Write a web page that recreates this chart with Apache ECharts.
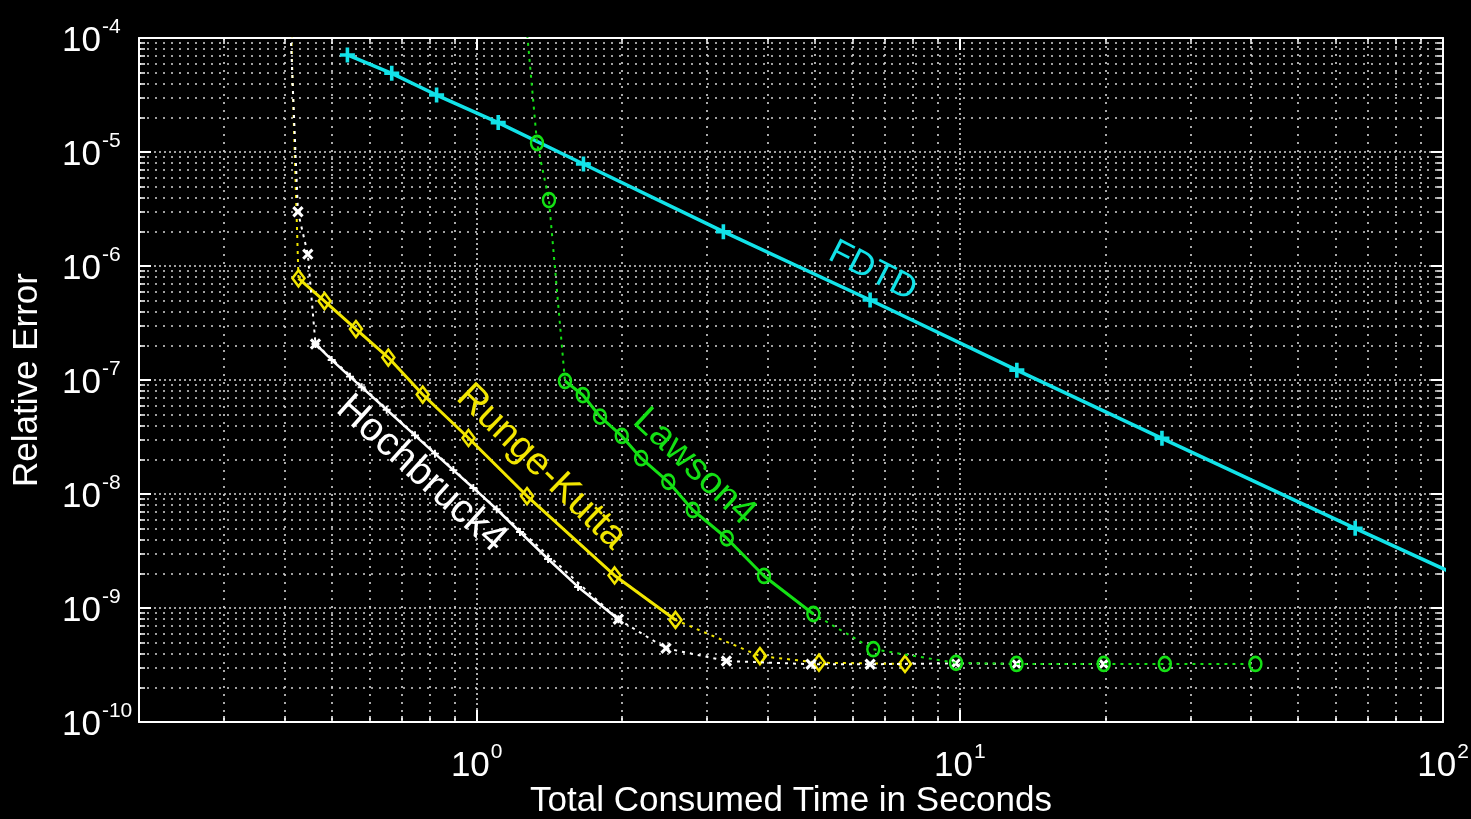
<!DOCTYPE html>
<html>
<head>
<meta charset="utf-8">
<script src="https://cdn.jsdelivr.net/npm/echarts@6/dist/echarts.min.js"></script>
<style>
  html, body { margin: 0; padding: 0; background: #000; }
  #chart { width: 1471px; height: 819px; }
</style>
</head>
<body>
<div id="chart"></div>
<script>
// ---- axis ranges (log10 scale) ----
const xRange = [0.2, 100];
const yRange = [1e-10, 1e-4];

// ---- FDTD: run time (s) vs relative error ----
const fdtdTime  = [0.540, 0.667, 0.826, 1.108, 1.663, 3.24, 6.52, 13.12, 26.2, 65.8, 131.6];
const fdtdError = [7.10e-5, 4.90e-5, 3.16e-5, 1.81e-5, 7.85e-6, 2.0e-6, 5.03e-7, 1.22e-7, 3.08e-8, 5.0e-9, 1.3e-9];

// ---- Lawson4: all runs (dotted) and the converging stretch (solid) ----
const lawsonTime  = [1.251, 1.333, 1.411, 1.523, 1.658, 1.800, 1.996, 2.189, 2.492, 2.800, 3.293, 3.932, 4.975, 6.62, 9.82, 13.10, 19.85, 26.56, 40.9];
const lawsonError = [2.38e-4, 1.2e-5, 3.79e-6, 9.8e-8, 7.38e-8, 4.77e-8, 3.23e-8, 2.06e-8, 1.28e-8, 7.24e-9, 4.09e-9, 1.91e-9, 8.86e-10, 4.35e-10, 3.30e-10, 3.23e-10, 3.23e-10, 3.23e-10, 3.23e-10];
const lawsonSolid = [3, 12];   // first and last index of the converging stretch

// ---- Runge-Kutta ----
const rkTime  = [0.4108, 0.4277, 0.4842, 0.5624, 0.6562, 0.7731, 0.9617, 1.271, 1.929, 2.579, 3.857, 5.11, 7.70];
const rkError = [2.38e-4, 7.8e-7, 4.93e-7, 2.80e-7, 1.574e-7, 7.46e-8, 3.10e-8, 9.6e-9, 1.93e-9, 7.85e-10, 3.79e-10, 3.31e-10, 3.23e-10];
const rkSolid = [1, 9];

// ---- Hochbruck4: coarse runs (dotted, x markers) and fine runs (solid) ----
const hochTime  = [0.4088, 0.4266, 0.4471, 0.4638, 1.964, 2.465, 3.287, 4.92, 6.52, 9.81, 13.1, 19.85];
const hochError = [2.38e-4, 2.99e-6, 1.27e-6, 2.07e-7, 7.96e-10, 4.43e-10, 3.43e-10, 3.21e-10, 3.21e-10, 3.27e-10, 3.23e-10, 3.23e-10];
const hochFineTime  = [0.4638, 0.501, 0.5466, 0.578, 0.6512, 0.7452, 0.8196, 0.8946, 0.984, 1.10, 1.229, 1.405, 1.621, 1.964];
const hochFineError = [2.07e-7, 1.50e-7, 1.07e-7, 8.65e-8, 5.48e-8, 3.27e-8, 2.26e-8, 1.62e-8, 1.13e-8, 7.35e-9, 4.64e-9, 2.69e-9, 1.53e-9, 7.96e-10];

// ---- in-plot curve names, anchored in data space ----
const curveNames  = ['FDTD', 'Lawson4', 'Runge-Kutta', 'Hochbruck4'];
const nameTime    = [6.6, 2.82, 1.36, 0.768];
const nameError   = [9.0e-7, 1.73e-8, 1.72e-8, 1.50e-8];
const nameAngle   = [-27, -43, -44, -42];
const nameSize    = [35, 38, 39, 40];

const CYAN = '#12e2e8', GREEN = '#14e014', YELLOW = '#f2e600', WHITE = '#ffffff';
const nameColor = [CYAN, GREEN, YELLOW, WHITE];
const FONT = 'Liberation Sans';

const plusPath = 'path://M3.8,0H6.2V10H3.8Z M0,3.8H10V6.2H0Z';

function pairs(t, e, range) {
  const out = t.map((v, i) => [v, e[i]]);
  return range ? out.slice(range[0], range[1] + 1) : out;
}

function powLabel(v) {
  const e = Math.round(Math.log10(v));
  const p = Math.pow(10, e);
  if (Math.abs(v - p) > 1e-6 * p) return '';
  return '{b|10}{e|' + e + '}';
}

const labelRich = {
  b: { fontSize: 35, color: '#fff', fontFamily: FONT, verticalAlign: 'bottom', lineHeight: 42 },
  e: { fontSize: 21, color: '#fff', fontFamily: FONT, verticalAlign: 'top', padding: [0, 0, 0, 1] }
};

const gridDots  = { color: '#d4d4d4', type: [2, 6], width: 1.6 };
const gridMajor = { color: '#d4d4d4', type: [2, 3], width: 1.6 };

function logAxis(range, position, withLabels, extra) {
  return Object.assign({
    type: 'log', logBase: 10, min: range[0], max: range[1], position: position,
    axisLine: { show: true, onZero: false, lineStyle: { color: '#fff', width: 2 } },
    axisTick: { show: true, inside: true, length: 12, lineStyle: { color: '#fff', width: 2 } },
    minorTick: { show: true, splitNumber: 9, length: 6, lineStyle: { color: '#fff', width: 1.5 } },
    splitLine: { show: withLabels, lineStyle: gridMajor },
    minorSplitLine: { show: withLabels, lineStyle: gridDots },
    axisLabel: withLabels ? { formatter: powLabel, rich: labelRich } : { show: false }
  }, extra || {});
}

const chart = echarts.init(document.getElementById('chart'));

const dotted = (color) => ({ color: color, width: 2, type: [3, 5] });

chart.setOption({
  backgroundColor: '#000',
  animation: false,
  grid: { left: 139, right: 28, top: 38, bottom: 97, containLabel: false, outerBoundsMode: 'none' },
  xAxis: [
    logAxis(xRange, 'bottom', true, {
      name: 'Total Consumed Time in Seconds', nameLocation: 'middle', nameGap: 62,
      nameMoveOverlap: false,
      nameTextStyle: { color: '#fff', fontSize: 35, fontFamily: FONT },
      axisLabel: { formatter: powLabel, rich: labelRich, margin: 20 }
    }),
    logAxis(xRange, 'top', false)
  ],
  yAxis: [
    logAxis(yRange, 'left', true, {
      name: 'Relative Error', nameLocation: 'middle', nameGap: 94,
      nameMoveOverlap: false,
      nameTextStyle: { color: '#fff', fontSize: 35, fontFamily: FONT },
      axisLabel: { formatter: powLabel, rich: labelRich, align: 'left', margin: 77 }
    }),
    logAxis(yRange, 'right', false)
  ],
  series: [
    {
      name: 'FDTD', type: 'line', data: pairs(fdtdTime, fdtdError),
      symbol: plusPath, symbolSize: 15, itemStyle: { color: CYAN },
      lineStyle: { color: CYAN, width: 3.5 }, z: 3
    },
    {
      name: 'Runge-Kutta (all)', type: 'line', data: pairs(rkTime, rkError),
      symbol: 'diamond', symbolSize: [12, 16],
      itemStyle: { color: 'transparent', borderColor: YELLOW, borderWidth: 2.6 },
      lineStyle: dotted(YELLOW), z: 4
    },
    {
      name: 'Runge-Kutta', type: 'line', data: pairs(rkTime, rkError, rkSolid),
      symbol: 'none', lineStyle: { color: YELLOW, width: 3 }, z: 4
    },
    {
      name: 'Hochbruck4 (all)', type: 'line', data: pairs(hochTime, hochError),
      symbol: plusPath, symbolRotate: 45, symbolSize: 13, itemStyle: { color: WHITE },
      lineStyle: dotted(WHITE), z: 5
    },
    {
      name: 'Hochbruck4', type: 'line', data: pairs(hochFineTime, hochFineError),
      symbol: plusPath, symbolSize: 8, itemStyle: { color: WHITE },
      lineStyle: { color: WHITE, width: 2.5 }, z: 5
    },
    {
      name: 'Lawson4 (all)', type: 'line', data: pairs(lawsonTime, lawsonError),
      symbol: 'circle', symbolSize: [12, 14],
      itemStyle: { color: 'transparent', borderColor: GREEN, borderWidth: 2.6 },
      lineStyle: dotted(GREEN), z: 6
    },
    {
      name: 'Lawson4', type: 'line', data: pairs(lawsonTime, lawsonError, lawsonSolid),
      symbol: 'none', lineStyle: { color: GREEN, width: 3 }, z: 6
    }
  ]
});

// curve names written along each curve
const nameGraphics = curveNames.map((txt, i) => {
  const p = chart.convertToPixel({ xAxisIndex: 0, yAxisIndex: 0 }, [nameTime[i], nameError[i]]);
  return {
    type: 'text', x: p[0], y: p[1], rotation: nameAngle[i] * Math.PI / 180, z: 10,
    style: {
      text: txt, fill: nameColor[i], font: nameSize[i] + 'px "' + FONT + '"',
      align: 'center', verticalAlign: 'middle'
    }
  };
});
chart.setOption({ graphic: nameGraphics });
</script>
</body>
</html>
